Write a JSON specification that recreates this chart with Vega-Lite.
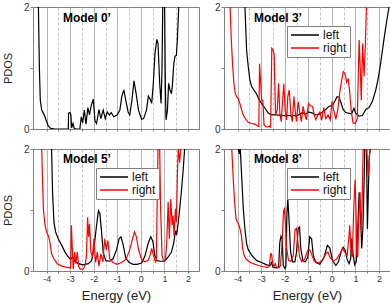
{
  "$schema": "https://vega.github.io/schema/vega-lite/v6.json",
  "background": "white",
  "padding": {"left": 1, "top": 1, "right": 1, "bottom": 1},
  "datasets": {
    "m0": [
      {"series":"left","energy":-4.42,"pdos":2.2},{"series":"left","energy":-4.35,"pdos":2.0},{"series":"left","energy":-4.31,"pdos":1.02},{"series":"left","energy":-4.27,"pdos":0.47},{"series":"left","energy":-4.21,"pdos":0.31},{"series":"left","energy":-4.14,"pdos":0.26},{"series":"left","energy":-4.07,"pdos":0.2},{"series":"left","energy":-4.0,"pdos":0.12},{"series":"left","energy":-3.93,"pdos":0.05},{"series":"left","energy":-3.83,"pdos":0.01},{"series":"left","energy":-3.65,"pdos":0},{"series":"left","energy":-3.08,"pdos":0},{"series":"left","energy":-3.07,"pdos":0.26},{"series":"left","energy":-3.01,"pdos":0.27},{"series":"left","energy":-2.97,"pdos":0.23},{"series":"left","energy":-2.94,"pdos":0.02},{"series":"left","energy":-2.88,"pdos":0.09},{"series":"left","energy":-2.83,"pdos":0.01},{"series":"left","energy":-2.76,"pdos":0},{"series":"left","energy":-2.59,"pdos":0},{"series":"left","energy":-2.53,"pdos":0.2},{"series":"left","energy":-2.47,"pdos":0.1},{"series":"left","energy":-2.4,"pdos":0.31},{"series":"left","energy":-2.33,"pdos":0.08},{"series":"left","energy":-2.25,"pdos":0.35},{"series":"left","energy":-2.18,"pdos":0.23},{"series":"left","energy":-2.11,"pdos":0.38},{"series":"left","energy":-2.02,"pdos":0.49},{"series":"left","energy":-1.95,"pdos":0.14},{"series":"left","energy":-1.88,"pdos":0.09},{"series":"left","energy":-1.78,"pdos":0.32},{"series":"left","energy":-1.7,"pdos":0.17},{"series":"left","energy":-1.6,"pdos":0.31},{"series":"left","energy":-1.51,"pdos":0.17},{"series":"left","energy":-1.43,"pdos":0.28},{"series":"left","energy":-1.34,"pdos":0.23},{"series":"left","energy":-1.26,"pdos":0.27},{"series":"left","energy":-1.15,"pdos":0.2},{"series":"left","energy":-1.01,"pdos":0.23},{"series":"left","energy":-0.89,"pdos":0.31},{"series":"left","energy":-0.81,"pdos":0.53},{"series":"left","energy":-0.72,"pdos":0.64},{"series":"left","energy":-0.64,"pdos":0.47},{"series":"left","energy":-0.54,"pdos":0.28},{"series":"left","energy":-0.47,"pdos":0.23},{"series":"left","energy":-0.38,"pdos":0.47},{"series":"left","energy":-0.29,"pdos":0.79},{"series":"left","energy":-0.2,"pdos":0.58},{"series":"left","energy":-0.1,"pdos":0.31},{"series":"left","energy":0.03,"pdos":0.16},{"series":"left","energy":0.12,"pdos":0.17},{"series":"left","energy":0.24,"pdos":0.31},{"series":"left","energy":0.32,"pdos":0.54},{"series":"left","energy":0.39,"pdos":0.49},{"series":"left","energy":0.46,"pdos":0.42},{"series":"left","energy":0.53,"pdos":0.75},{"series":"left","energy":0.6,"pdos":1.24},{"series":"left","energy":0.68,"pdos":1.47},{"series":"left","energy":0.73,"pdos":1.4},{"series":"left","energy":0.8,"pdos":0.75},{"series":"left","energy":0.86,"pdos":0.42},{"series":"left","energy":0.9,"pdos":1.02},{"series":"left","energy":0.93,"pdos":2.0},{"series":"left","energy":0.94,"pdos":2.2},{"series":"left","energy":1.0,"pdos":2.2},{"series":"left","energy":1.01,"pdos":2.0},{"series":"left","energy":1.04,"pdos":0.75},{"series":"left","energy":1.07,"pdos":0.15},{"series":"left","energy":1.13,"pdos":0.31},{"series":"left","energy":1.18,"pdos":0.75},{"series":"left","energy":1.24,"pdos":0.64},{"series":"left","energy":1.3,"pdos":0.58},{"series":"left","energy":1.34,"pdos":0.72},{"series":"left","energy":1.4,"pdos":1.07},{"series":"left","energy":1.45,"pdos":1.19},{"series":"left","energy":1.51,"pdos":1.21},{"series":"left","energy":1.55,"pdos":1.46},{"series":"left","energy":1.61,"pdos":2.0},{"series":"left","energy":1.65,"pdos":2.3}
    ],
    "m3": [
      {"series":"left","energy":-3.76,"pdos":2.3},{"series":"left","energy":-3.69,"pdos":2.0},{"series":"left","energy":-3.62,"pdos":1.29},{"series":"left","energy":-3.55,"pdos":1.02},{"series":"left","energy":-3.48,"pdos":0.8},{"series":"left","energy":-3.41,"pdos":0.7},{"series":"left","energy":-3.31,"pdos":0.64},{"series":"left","energy":-3.19,"pdos":0.57},{"series":"left","energy":-3.08,"pdos":0.47},{"series":"left","energy":-2.98,"pdos":0.42},{"series":"left","energy":-2.84,"pdos":0.34},{"series":"left","energy":-2.7,"pdos":0.26},{"series":"left","energy":-2.56,"pdos":0.23},{"series":"left","energy":-2.35,"pdos":0.23},{"series":"left","energy":-2.06,"pdos":0.22},{"series":"left","energy":-1.78,"pdos":0.22},{"series":"left","energy":-1.5,"pdos":0.22},{"series":"left","energy":-1.36,"pdos":0.24},{"series":"left","energy":-1.25,"pdos":0.27},{"series":"left","energy":-1.13,"pdos":0.24},{"series":"left","energy":-0.99,"pdos":0.28},{"series":"left","energy":-0.82,"pdos":0.26},{"series":"left","energy":-0.68,"pdos":0.23},{"series":"left","energy":-0.54,"pdos":0.24},{"series":"left","energy":-0.4,"pdos":0.28},{"series":"left","energy":-0.26,"pdos":0.32},{"series":"left","energy":-0.12,"pdos":0.37},{"series":"left","energy":0.03,"pdos":0.39},{"series":"left","energy":0.12,"pdos":0.45},{"series":"left","energy":0.22,"pdos":0.53},{"series":"left","energy":0.31,"pdos":0.52},{"series":"left","energy":0.39,"pdos":0.43},{"series":"left","energy":0.48,"pdos":0.32},{"series":"left","energy":0.59,"pdos":0.27},{"series":"left","energy":0.7,"pdos":0.26},{"series":"left","energy":0.84,"pdos":0.25},{"series":"left","energy":0.94,"pdos":0.34},{"series":"left","energy":1.01,"pdos":0.26},{"series":"left","energy":1.16,"pdos":0.21},{"series":"left","energy":1.3,"pdos":0.22},{"series":"left","energy":1.44,"pdos":0.32},{"series":"left","energy":1.58,"pdos":0.35},{"series":"left","energy":1.72,"pdos":0.45},{"series":"left","energy":1.86,"pdos":0.63},{"series":"left","energy":1.97,"pdos":0.83},{"series":"left","energy":2.07,"pdos":1.07},{"series":"left","energy":2.17,"pdos":1.35},{"series":"left","energy":2.27,"pdos":1.62},{"series":"left","energy":2.36,"pdos":1.84},{"series":"left","energy":2.43,"pdos":2.0},{"series":"left","energy":2.48,"pdos":2.2},
      {"series":"right","energy":-4.4,"pdos":2.3},{"series":"right","energy":-4.32,"pdos":2.0},{"series":"right","energy":-4.27,"pdos":1.46},{"series":"right","energy":-4.21,"pdos":1.02},{"series":"right","energy":-4.16,"pdos":0.75},{"series":"right","energy":-4.1,"pdos":0.58},{"series":"right","energy":-4.04,"pdos":0.53},{"series":"right","energy":-3.97,"pdos":0.5},{"series":"right","energy":-3.9,"pdos":0.41},{"series":"right","energy":-3.83,"pdos":0.31},{"series":"right","energy":-3.76,"pdos":0.23},{"series":"right","energy":-3.66,"pdos":0.16},{"series":"right","energy":-3.55,"pdos":0.11},{"series":"right","energy":-3.41,"pdos":0.09},{"series":"right","energy":-3.27,"pdos":0.08},{"series":"right","energy":-3.15,"pdos":0.05},{"series":"right","energy":-3.1,"pdos":0.04},{"series":"right","energy":-3.07,"pdos":1.07},{"series":"right","energy":-3.03,"pdos":0.8},{"series":"right","energy":-2.98,"pdos":0.47},{"series":"right","energy":-2.93,"pdos":0.47},{"series":"right","energy":-2.88,"pdos":0.07},{"series":"right","energy":-2.81,"pdos":0.04},{"series":"right","energy":-2.73,"pdos":0.03},{"series":"right","energy":-2.66,"pdos":0.05},{"series":"right","energy":-2.6,"pdos":0.03},{"series":"right","energy":-2.55,"pdos":1.32},{"series":"right","energy":-2.49,"pdos":1.29},{"series":"right","energy":-2.45,"pdos":1.21},{"series":"right","energy":-2.39,"pdos":0.23},{"series":"right","energy":-2.32,"pdos":0.31},{"series":"right","energy":-2.26,"pdos":0.75},{"series":"right","energy":-2.21,"pdos":0.26},{"series":"right","energy":-2.15,"pdos":0.12},{"series":"right","energy":-2.09,"pdos":0.47},{"series":"right","energy":-2.04,"pdos":0.74},{"series":"right","energy":-1.98,"pdos":0.31},{"series":"right","energy":-1.92,"pdos":0.15},{"series":"right","energy":-1.87,"pdos":0.53},{"series":"right","energy":-1.81,"pdos":0.64},{"series":"right","energy":-1.74,"pdos":0.26},{"series":"right","energy":-1.68,"pdos":0.12},{"series":"right","energy":-1.61,"pdos":0.53},{"series":"right","energy":-1.56,"pdos":0.31},{"series":"right","energy":-1.5,"pdos":0.12},{"series":"right","energy":-1.43,"pdos":0.45},{"series":"right","energy":-1.36,"pdos":0.26},{"series":"right","energy":-1.29,"pdos":0.12},{"series":"right","energy":-1.22,"pdos":0.37},{"series":"right","energy":-1.15,"pdos":0.23},{"series":"right","energy":-1.08,"pdos":0.15},{"series":"right","energy":-0.99,"pdos":0.42},{"series":"right","energy":-0.91,"pdos":0.38},{"series":"right","energy":-0.82,"pdos":0.37},{"series":"right","energy":-0.75,"pdos":0.23},{"series":"right","energy":-0.68,"pdos":0.15},{"series":"right","energy":-0.6,"pdos":0.23},{"series":"right","energy":-0.51,"pdos":0.28},{"series":"right","energy":-0.43,"pdos":0.14},{"series":"right","energy":-0.34,"pdos":0.35},{"series":"right","energy":-0.26,"pdos":0.17},{"series":"right","energy":-0.16,"pdos":0.23},{"series":"right","energy":-0.07,"pdos":0.15},{"series":"right","energy":0.01,"pdos":0.45},{"series":"right","energy":0.08,"pdos":0.31},{"series":"right","energy":0.17,"pdos":0.16},{"series":"right","energy":0.25,"pdos":0.31},{"series":"right","energy":0.34,"pdos":0.61},{"series":"right","energy":0.42,"pdos":0.8},{"series":"right","energy":0.49,"pdos":0.94},{"series":"right","energy":0.56,"pdos":0.91},{"series":"right","energy":0.63,"pdos":0.77},{"series":"right","energy":0.69,"pdos":0.83},{"series":"right","energy":0.75,"pdos":0.64},{"series":"right","energy":0.82,"pdos":0.31},{"series":"right","energy":0.9,"pdos":0.1},{"series":"right","energy":1.0,"pdos":0.09},{"series":"right","energy":1.08,"pdos":0.17},{"series":"right","energy":1.16,"pdos":1.46},{"series":"right","energy":1.21,"pdos":0.96},{"series":"right","energy":1.25,"pdos":0.47},{"series":"right","energy":1.31,"pdos":1.4},{"series":"right","energy":1.37,"pdos":0.86},{"series":"right","energy":1.42,"pdos":1.35},{"series":"right","energy":1.47,"pdos":2.0},{"series":"right","energy":1.51,"pdos":2.3}
    ],
    "m5": [
      {"series":"left","energy":-3.83,"pdos":2.3},{"series":"left","energy":-3.79,"pdos":2.0},{"series":"left","energy":-3.75,"pdos":1.29},{"series":"left","energy":-3.69,"pdos":0.8},{"series":"left","energy":-3.62,"pdos":0.64},{"series":"left","energy":-3.51,"pdos":0.53},{"series":"left","energy":-3.36,"pdos":0.42},{"series":"left","energy":-3.22,"pdos":0.31},{"series":"left","energy":-3.08,"pdos":0.23},{"series":"left","energy":-2.98,"pdos":0.19},{"series":"left","energy":-2.9,"pdos":0.23},{"series":"left","energy":-2.8,"pdos":0.16},{"series":"left","energy":-2.66,"pdos":0.12},{"series":"left","energy":-2.45,"pdos":0.1},{"series":"left","energy":-2.23,"pdos":0.12},{"series":"left","energy":-2.09,"pdos":0.17},{"series":"left","energy":-1.98,"pdos":0.41},{"series":"left","energy":-1.88,"pdos":0.75},{"series":"left","energy":-1.8,"pdos":0.99},{"series":"left","energy":-1.74,"pdos":0.94},{"series":"left","energy":-1.67,"pdos":0.65},{"series":"left","energy":-1.6,"pdos":0.31},{"series":"left","energy":-1.49,"pdos":0.17},{"series":"left","energy":-1.32,"pdos":0.16},{"series":"left","energy":-1.18,"pdos":0.2},{"series":"left","energy":-1.03,"pdos":0.35},{"series":"left","energy":-0.92,"pdos":0.53},{"series":"left","energy":-0.84,"pdos":0.56},{"series":"left","energy":-0.75,"pdos":0.43},{"series":"left","energy":-0.64,"pdos":0.21},{"series":"left","energy":-0.5,"pdos":0.14},{"series":"left","energy":-0.33,"pdos":0.11},{"series":"left","energy":-0.16,"pdos":0.11},{"series":"left","energy":0.03,"pdos":0.13},{"series":"left","energy":0.17,"pdos":0.24},{"series":"left","energy":0.31,"pdos":0.45},{"series":"left","energy":0.42,"pdos":0.56},{"series":"left","energy":0.51,"pdos":0.49},{"series":"left","energy":0.59,"pdos":0.26},{"series":"left","energy":0.69,"pdos":0.17},{"series":"left","energy":0.83,"pdos":0.16},{"series":"left","energy":1.01,"pdos":0.16},{"series":"left","energy":1.16,"pdos":0.23},{"series":"left","energy":1.3,"pdos":0.31},{"series":"left","energy":1.4,"pdos":0.47},{"series":"left","energy":1.47,"pdos":0.66},{"series":"left","energy":1.52,"pdos":0.59},{"series":"left","energy":1.59,"pdos":0.8},{"series":"left","energy":1.65,"pdos":1.02},{"series":"left","energy":1.72,"pdos":1.29},{"series":"left","energy":1.79,"pdos":1.62},{"series":"left","energy":1.86,"pdos":2.0},{"series":"left","energy":1.9,"pdos":2.3},
      {"series":"right","energy":-4.25,"pdos":2.3},{"series":"right","energy":-4.21,"pdos":2.0},{"series":"right","energy":-4.18,"pdos":1.56},{"series":"right","energy":-4.14,"pdos":1.02},{"series":"right","energy":-4.07,"pdos":0.75},{"series":"right","energy":-4.0,"pdos":0.64},{"series":"right","energy":-3.93,"pdos":0.58},{"series":"right","energy":-3.86,"pdos":0.47},{"series":"right","energy":-3.79,"pdos":0.28},{"series":"right","energy":-3.69,"pdos":0.2},{"series":"right","energy":-3.55,"pdos":0.12},{"series":"right","energy":-3.36,"pdos":0.08},{"series":"right","energy":-3.15,"pdos":0.06},{"series":"right","energy":-2.98,"pdos":0.05},{"series":"right","energy":-2.95,"pdos":0.75},{"series":"right","energy":-2.91,"pdos":0.37},{"series":"right","energy":-2.87,"pdos":0.03},{"series":"right","energy":-2.81,"pdos":0.31},{"series":"right","energy":-2.76,"pdos":0.12},{"series":"right","energy":-2.7,"pdos":0.31},{"series":"right","energy":-2.64,"pdos":0.07},{"series":"right","energy":-2.57,"pdos":0.03},{"series":"right","energy":-2.45,"pdos":0.03},{"series":"right","energy":-2.36,"pdos":0.1},{"series":"right","energy":-2.31,"pdos":0.26},{"series":"right","energy":-2.26,"pdos":0.88},{"series":"right","energy":-2.22,"pdos":0.56},{"series":"right","energy":-2.18,"pdos":0.77},{"series":"right","energy":-2.12,"pdos":0.31},{"series":"right","energy":-2.05,"pdos":0.23},{"series":"right","energy":-1.99,"pdos":0.53},{"series":"right","energy":-1.92,"pdos":0.14},{"series":"right","energy":-1.85,"pdos":0.31},{"series":"right","energy":-1.78,"pdos":0.08},{"series":"right","energy":-1.7,"pdos":0.28},{"series":"right","energy":-1.61,"pdos":0.15},{"series":"right","energy":-1.54,"pdos":0.53},{"series":"right","energy":-1.47,"pdos":0.35},{"series":"right","energy":-1.4,"pdos":0.5},{"series":"right","energy":-1.32,"pdos":0.2},{"series":"right","energy":-1.18,"pdos":0.14},{"series":"right","energy":-1.01,"pdos":0.11},{"series":"right","energy":-0.82,"pdos":0.14},{"series":"right","energy":-0.64,"pdos":0.19},{"series":"right","energy":-0.5,"pdos":0.31},{"series":"right","energy":-0.38,"pdos":0.49},{"series":"right","energy":-0.27,"pdos":0.64},{"series":"right","energy":-0.19,"pdos":0.56},{"series":"right","energy":-0.09,"pdos":0.34},{"series":"right","energy":0.03,"pdos":0.19},{"series":"right","energy":0.17,"pdos":0.15},{"series":"right","energy":0.31,"pdos":0.17},{"series":"right","energy":0.41,"pdos":0.28},{"series":"right","energy":0.46,"pdos":0.37},{"series":"right","energy":0.53,"pdos":0.26},{"series":"right","energy":0.62,"pdos":0.15},{"series":"right","energy":0.66,"pdos":0.19},{"series":"right","energy":0.7,"pdos":1.29},{"series":"right","energy":0.73,"pdos":2.0},{"series":"right","energy":0.76,"pdos":2.3},{"series":"right","energy":0.8,"pdos":2.0},{"series":"right","energy":0.84,"pdos":1.02},{"series":"right","energy":0.9,"pdos":0.26},{"series":"right","energy":0.97,"pdos":0.16},{"series":"right","energy":1.04,"pdos":0.17},{"series":"right","energy":1.1,"pdos":0.47},{"series":"right","energy":1.16,"pdos":1.13},{"series":"right","energy":1.21,"pdos":0.53},{"series":"right","energy":1.27,"pdos":1.18},{"series":"right","energy":1.33,"pdos":0.75},{"series":"right","energy":1.37,"pdos":0.91},{"series":"right","energy":1.41,"pdos":0.58},{"series":"right","energy":1.47,"pdos":1.02},{"series":"right","energy":1.51,"pdos":0.8},{"series":"right","energy":1.55,"pdos":1.56},{"series":"right","energy":1.59,"pdos":2.0},{"series":"right","energy":1.65,"pdos":1.78},{"series":"right","energy":1.69,"pdos":2.0},{"series":"right","energy":1.73,"pdos":2.3}
    ],
    "m8": [
      {"series":"left","energy":-4.04,"pdos":2.3},{"series":"left","energy":-3.97,"pdos":2.0},{"series":"left","energy":-3.93,"pdos":1.92},{"series":"left","energy":-3.89,"pdos":2.0},{"series":"left","energy":-3.83,"pdos":1.56},{"series":"left","energy":-3.76,"pdos":1.02},{"series":"left","energy":-3.69,"pdos":0.68},{"series":"left","energy":-3.62,"pdos":0.45},{"series":"left","energy":-3.55,"pdos":0.35},{"series":"left","energy":-3.41,"pdos":0.26},{"series":"left","energy":-3.19,"pdos":0.17},{"series":"left","energy":-2.98,"pdos":0.14},{"series":"left","energy":-2.77,"pdos":0.1},{"series":"left","energy":-2.63,"pdos":0.09},{"series":"left","energy":-2.56,"pdos":0.14},{"series":"left","energy":-2.5,"pdos":0.06},{"series":"left","energy":-2.38,"pdos":0.05},{"series":"left","energy":-2.26,"pdos":0.07},{"series":"left","energy":-2.21,"pdos":0.47},{"series":"left","energy":-2.16,"pdos":0.57},{"series":"left","energy":-2.11,"pdos":0.52},{"series":"left","energy":-2.06,"pdos":0.09},{"series":"left","energy":-1.99,"pdos":0.04},{"series":"left","energy":-1.95,"pdos":0.08},{"series":"left","energy":-1.91,"pdos":0.91},{"series":"left","energy":-1.87,"pdos":1.19},{"series":"left","energy":-1.81,"pdos":0.77},{"series":"left","energy":-1.75,"pdos":0.31},{"series":"left","energy":-1.67,"pdos":0.15},{"series":"left","energy":-1.57,"pdos":0.15},{"series":"left","energy":-1.5,"pdos":0.31},{"series":"left","energy":-1.43,"pdos":0.7},{"series":"left","energy":-1.37,"pdos":0.72},{"series":"left","energy":-1.32,"pdos":0.37},{"series":"left","energy":-1.23,"pdos":0.17},{"series":"left","energy":-1.13,"pdos":0.15},{"series":"left","energy":-1.02,"pdos":0.23},{"series":"left","energy":-0.94,"pdos":0.56},{"series":"left","energy":-0.86,"pdos":0.53},{"series":"left","energy":-0.79,"pdos":0.26},{"series":"left","energy":-0.68,"pdos":0.14},{"series":"left","energy":-0.51,"pdos":0.11},{"series":"left","energy":-0.33,"pdos":0.23},{"series":"left","energy":-0.19,"pdos":0.42},{"series":"left","energy":-0.09,"pdos":0.38},{"series":"left","energy":0.03,"pdos":0.17},{"series":"left","energy":0.17,"pdos":0.09},{"series":"left","energy":0.28,"pdos":0.15},{"series":"left","energy":0.39,"pdos":0.31},{"series":"left","energy":0.48,"pdos":0.39},{"series":"left","energy":0.56,"pdos":0.35},{"series":"left","energy":0.65,"pdos":0.19},{"series":"left","energy":0.73,"pdos":0.12},{"series":"left","energy":0.8,"pdos":0.2},{"series":"left","energy":0.84,"pdos":0.53},{"series":"left","energy":0.9,"pdos":0.28},{"series":"left","energy":0.97,"pdos":0.1},{"series":"left","energy":1.04,"pdos":0.16},{"series":"left","energy":1.1,"pdos":0.69},{"series":"left","energy":1.16,"pdos":1.29},{"series":"left","energy":1.21,"pdos":0.96},{"series":"left","energy":1.27,"pdos":0.37},{"series":"left","energy":1.32,"pdos":0.72},{"series":"left","energy":1.37,"pdos":1.46},{"series":"left","energy":1.4,"pdos":2.0},{"series":"left","energy":1.44,"pdos":2.3},{"series":"left","energy":1.47,"pdos":2.0},{"series":"left","energy":1.51,"pdos":0.69},{"series":"left","energy":1.55,"pdos":1.29},{"series":"left","energy":1.59,"pdos":1.89},{"series":"left","energy":1.64,"pdos":2.0},{"series":"left","energy":1.68,"pdos":2.3},
      {"series":"right","energy":-4.32,"pdos":2.3},{"series":"right","energy":-4.25,"pdos":2.0},{"series":"right","energy":-4.18,"pdos":1.46},{"series":"right","energy":-4.13,"pdos":1.13},{"series":"right","energy":-4.07,"pdos":0.86},{"series":"right","energy":-4.01,"pdos":0.8},{"series":"right","energy":-3.96,"pdos":0.77},{"series":"right","energy":-3.9,"pdos":0.69},{"series":"right","energy":-3.84,"pdos":0.58},{"series":"right","energy":-3.79,"pdos":0.37},{"series":"right","energy":-3.73,"pdos":0.26},{"series":"right","energy":-3.65,"pdos":0.2},{"series":"right","energy":-3.51,"pdos":0.15},{"series":"right","energy":-3.34,"pdos":0.12},{"series":"right","energy":-3.12,"pdos":0.09},{"series":"right","energy":-2.91,"pdos":0.07},{"series":"right","energy":-2.74,"pdos":0.06},{"series":"right","energy":-2.66,"pdos":0.07},{"series":"right","energy":-2.6,"pdos":0.28},{"series":"right","energy":-2.56,"pdos":0.28},{"series":"right","energy":-2.52,"pdos":0.15},{"series":"right","energy":-2.47,"pdos":0.07},{"series":"right","energy":-2.4,"pdos":0.12},{"series":"right","energy":-2.35,"pdos":0.05},{"series":"right","energy":-2.25,"pdos":0.05},{"series":"right","energy":-2.18,"pdos":0.09},{"series":"right","energy":-2.11,"pdos":0.47},{"series":"right","energy":-2.05,"pdos":0.99},{"series":"right","energy":-2.01,"pdos":1.02},{"series":"right","energy":-1.97,"pdos":0.75},{"series":"right","energy":-1.92,"pdos":0.37},{"series":"right","energy":-1.84,"pdos":0.17},{"series":"right","energy":-1.74,"pdos":0.16},{"series":"right","energy":-1.64,"pdos":0.26},{"series":"right","energy":-1.56,"pdos":0.68},{"series":"right","energy":-1.5,"pdos":0.7},{"series":"right","energy":-1.44,"pdos":0.47},{"series":"right","energy":-1.37,"pdos":0.23},{"series":"right","energy":-1.27,"pdos":0.15},{"series":"right","energy":-1.15,"pdos":0.2},{"series":"right","energy":-1.02,"pdos":0.34},{"series":"right","energy":-0.94,"pdos":0.35},{"series":"right","energy":-0.85,"pdos":0.26},{"series":"right","energy":-0.74,"pdos":0.16},{"series":"right","energy":-0.58,"pdos":0.13},{"series":"right","energy":-0.4,"pdos":0.17},{"series":"right","energy":-0.26,"pdos":0.28},{"series":"right","energy":-0.17,"pdos":0.31},{"series":"right","energy":-0.09,"pdos":0.23},{"series":"right","energy":0.05,"pdos":0.16},{"series":"right","energy":0.19,"pdos":0.19},{"series":"right","energy":0.34,"pdos":0.28},{"series":"right","energy":0.45,"pdos":0.37},{"series":"right","energy":0.55,"pdos":0.31},{"series":"right","energy":0.65,"pdos":0.26},{"series":"right","energy":0.72,"pdos":0.53},{"series":"right","energy":0.76,"pdos":0.75},{"series":"right","energy":0.82,"pdos":0.31},{"series":"right","energy":0.87,"pdos":0.23},{"series":"right","energy":0.93,"pdos":1.02},{"series":"right","energy":0.99,"pdos":1.5},{"series":"right","energy":1.03,"pdos":0.91},{"series":"right","energy":1.06,"pdos":0.26},{"series":"right","energy":1.1,"pdos":0.23},{"series":"right","energy":1.16,"pdos":1.02},{"series":"right","energy":1.2,"pdos":1.29},{"series":"right","energy":1.24,"pdos":0.69},{"series":"right","energy":1.28,"pdos":1.02},{"series":"right","energy":1.33,"pdos":2.0},{"series":"right","energy":1.37,"pdos":2.3},{"series":"right","energy":1.44,"pdos":2.3},{"series":"right","energy":1.48,"pdos":2.0},{"series":"right","energy":1.54,"pdos":1.56},{"series":"right","energy":1.58,"pdos":1.78},{"series":"right","energy":1.62,"pdos":2.0},{"series":"right","energy":1.66,"pdos":2.3}
    ]
  },
  "config": {
    "font": "Liberation Sans",
    "view": {"stroke": "#808080", "strokeWidth": 1},
    "axis": {"domainColor": "#808080", "tickColor": "#808080", "labelColor": "#333333", "titleColor": "#222222", "titleFontWeight": "normal", "labelFont": "Liberation Sans", "titleFont": "Liberation Sans", "labelOverlap": false},
    "legend": {"orient": "none", "legendX": 63, "legendY": 19, "title": null, "strokeColor": "#808080", "fillColor": "white", "padding": 3, "symbolType": "M-1,0H4.6", "symbolSize": 100, "symbolStrokeWidth": 1.5, "labelOffset": 21, "labelFontSize": 12, "labelColor": "#111111", "rowPadding": 1, "labelFont": "Liberation Sans"}
  },
  "spacing": 8,
  "resolve": {"scale": {"color": "independent"}, "legend": {"color": "independent"}},
  "vconcat": [
    {
      "spacing": 13,
      "resolve": {"scale": {"color": "independent"}, "legend": {"color": "independent"}},
      "hconcat": [
        {
          "width": 166, "height": 122,
          "layer": [
            {
              "data": {"name": "m0"},
              "mark": {"type": "line", "clip": true, "strokeWidth": 1.2, "color": "black"},
              "encoding": {
                "x": {"field": "energy", "type": "quantitative", "scale": {"domain": [-4.58, 2.47], "nice": false, "zero": false},
                  "axis": {"title": null, "labels": false, "values": [-4,-3.5,-3,-2.5,-2,-1.5,-1,-0.5,0,0.5,1,1.5,2], "tickSize": 2, "grid": true,
                    "gridColor": {"condition": {"test": "datum.value % 1 !== 0", "value": "#c4c4c4"}, "value": "#9a9a9a"},
                    "gridDash": {"condition": {"test": "datum.value % 1 !== 0", "value": [3, 2]}, "value": [1, 0]}}},
                "y": {"field": "pdos", "type": "quantitative", "scale": {"domain": [0, 2], "nice": false},
                  "axis": {"title": "PDOS", "titleFontSize": 11, "titlePadding": 10, "values": [0, 1, 2], "labelExpr": "datum.value === 1 ? '' : datum.value + ''", "labelFontSize": 10, "labelPadding": 1, "tickSize": 3, "grid": false}}
              }
            },
            {
              "data": {"values": [{"label": "Model 0’"}]},
              "mark": {"type": "text", "align": "left", "baseline": "middle", "fontWeight": "bold", "fontSize": 12, "font": "Liberation Sans", "color": "black"},
              "encoding": {
                "x": {"datum": -3.31, "type": "quantitative",
                  "axis": {"title": null, "labels": false, "values": [-4,-3.5,-3,-2.5,-2,-1.5,-1,-0.5,0,0.5,1,1.5,2], "tickSize": 2, "grid": true,
                    "gridColor": {"condition": {"test": "datum.value % 1 !== 0", "value": "#c4c4c4"}, "value": "#9a9a9a"},
                    "gridDash": {"condition": {"test": "datum.value % 1 !== 0", "value": [3, 2]}, "value": [1, 0]}}},
                "y": {"datum": 1.82, "type": "quantitative",
                  "axis": {"title": "PDOS", "titleFontSize": 11, "titlePadding": 10, "values": [0, 1, 2], "labelExpr": "datum.value === 1 ? '' : datum.value + ''", "labelFontSize": 10, "labelPadding": 1, "tickSize": 3, "grid": false}},
                "text": {"field": "label"}}
            }
          ]
        },
        {
          "width": 166, "height": 122,
          "layer": [
            {
              "data": {"name": "m3"},
              "mark": {"type": "line", "clip": true, "strokeWidth": 1.2},
              "encoding": {
                "x": {"field": "energy", "type": "quantitative", "scale": {"domain": [-4.58, 2.47], "nice": false, "zero": false},
                  "axis": {"title": null, "labels": false, "values": [-4,-3.5,-3,-2.5,-2,-1.5,-1,-0.5,0,0.5,1,1.5,2], "tickSize": 2, "grid": true,
                    "gridColor": {"condition": {"test": "datum.value % 1 !== 0", "value": "#c4c4c4"}, "value": "#9a9a9a"},
                    "gridDash": {"condition": {"test": "datum.value % 1 !== 0", "value": [3, 2]}, "value": [1, 0]}}},
                "y": {"field": "pdos", "type": "quantitative", "scale": {"domain": [0, 2], "nice": false},
                  "axis": {"title": null, "values": [0, 1, 2], "labelExpr": "datum.value === 1 ? '' : datum.value + ''", "labelFontSize": 10, "labelPadding": 1, "tickSize": 3, "grid": false}},
                "color": {"field": "series", "type": "nominal", "scale": {"domain": ["left", "right"], "range": ["#000000", "#ff0000"]}}
              }
            },
            {
              "data": {"values": [{"label": "Model 3’"}]},
              "mark": {"type": "text", "align": "left", "baseline": "middle", "fontWeight": "bold", "fontSize": 12, "font": "Liberation Sans", "color": "black"},
              "encoding": {
                "x": {"datum": -3.31, "type": "quantitative",
                  "axis": {"title": null, "labels": false, "values": [-4,-3.5,-3,-2.5,-2,-1.5,-1,-0.5,0,0.5,1,1.5,2], "tickSize": 2, "grid": true,
                    "gridColor": {"condition": {"test": "datum.value % 1 !== 0", "value": "#c4c4c4"}, "value": "#9a9a9a"},
                    "gridDash": {"condition": {"test": "datum.value % 1 !== 0", "value": [3, 2]}, "value": [1, 0]}}},
                "y": {"datum": 1.82, "type": "quantitative",
                  "axis": {"title": null, "values": [0, 1, 2], "labelExpr": "datum.value === 1 ? '' : datum.value + ''", "labelFontSize": 10, "labelPadding": 1, "tickSize": 3, "grid": false}},
                "text": {"field": "label"}}
            }
          ]
        }
      ]
    },
    {
      "spacing": 13,
      "resolve": {"scale": {"color": "independent"}, "legend": {"color": "independent"}},
      "hconcat": [
        {
          "width": 166, "height": 122,
          "layer": [
            {
              "data": {"name": "m5"},
              "mark": {"type": "line", "clip": true, "strokeWidth": 1.2},
              "encoding": {
                "x": {"field": "energy", "type": "quantitative", "scale": {"domain": [-4.58, 2.47], "nice": false, "zero": false},
                  "axis": {"title": "Energy (eV)", "titleFontSize": 13, "titlePadding": 6, "values": [-4,-3.5,-3,-2.5,-2,-1.5,-1,-0.5,0,0.5,1,1.5,2], "labelExpr": "datum.value % 1 === 0 ? (datum.value < 0 ? '-' + abs(datum.value) : '' + datum.value) : ''", "labelFontSize": 9, "labelPadding": 1, "tickSize": 2, "grid": true,
                    "gridColor": {"condition": {"test": "datum.value % 1 !== 0", "value": "#c4c4c4"}, "value": "#9a9a9a"},
                    "gridDash": {"condition": {"test": "datum.value % 1 !== 0", "value": [3, 2]}, "value": [1, 0]}}},
                "y": {"field": "pdos", "type": "quantitative", "scale": {"domain": [0, 2], "nice": false},
                  "axis": {"title": "PDOS", "titleFontSize": 11, "titlePadding": 10, "values": [0, 1, 2], "labelExpr": "datum.value === 1 ? '' : datum.value + ''", "labelFontSize": 10, "labelPadding": 1, "tickSize": 3, "grid": false}},
                "color": {"field": "series", "type": "nominal", "scale": {"domain": ["left", "right"], "range": ["#000000", "#ff0000"]}}
              }
            },
            {
              "data": {"values": [{"label": "Model 5’"}]},
              "mark": {"type": "text", "align": "left", "baseline": "middle", "fontWeight": "bold", "fontSize": 12, "font": "Liberation Sans", "color": "black"},
              "encoding": {
                "x": {"datum": -3.31, "type": "quantitative",
                  "axis": {"title": "Energy (eV)", "titleFontSize": 13, "titlePadding": 6, "values": [-4,-3.5,-3,-2.5,-2,-1.5,-1,-0.5,0,0.5,1,1.5,2], "labelExpr": "datum.value % 1 === 0 ? (datum.value < 0 ? '-' + abs(datum.value) : '' + datum.value) : ''", "labelFontSize": 9, "labelPadding": 1, "tickSize": 2, "grid": true,
                    "gridColor": {"condition": {"test": "datum.value % 1 !== 0", "value": "#c4c4c4"}, "value": "#9a9a9a"},
                    "gridDash": {"condition": {"test": "datum.value % 1 !== 0", "value": [3, 2]}, "value": [1, 0]}}},
                "y": {"datum": 1.84, "type": "quantitative",
                  "axis": {"title": "PDOS", "titleFontSize": 11, "titlePadding": 10, "values": [0, 1, 2], "labelExpr": "datum.value === 1 ? '' : datum.value + ''", "labelFontSize": 10, "labelPadding": 1, "tickSize": 3, "grid": false}},
                "text": {"field": "label"}}
            }
          ]
        },
        {
          "width": 166, "height": 122,
          "layer": [
            {
              "data": {"name": "m8"},
              "mark": {"type": "line", "clip": true, "strokeWidth": 1.2},
              "encoding": {
                "x": {"field": "energy", "type": "quantitative", "scale": {"domain": [-4.58, 2.47], "nice": false, "zero": false},
                  "axis": {"title": "Energy (eV)", "titleFontSize": 13, "titlePadding": 6, "values": [-4,-3.5,-3,-2.5,-2,-1.5,-1,-0.5,0,0.5,1,1.5,2], "labelExpr": "datum.value % 1 === 0 ? (datum.value < 0 ? '-' + abs(datum.value) : '' + datum.value) : ''", "labelFontSize": 9, "labelPadding": 1, "tickSize": 2, "grid": true,
                    "gridColor": {"condition": {"test": "datum.value % 1 !== 0", "value": "#c4c4c4"}, "value": "#9a9a9a"},
                    "gridDash": {"condition": {"test": "datum.value % 1 !== 0", "value": [3, 2]}, "value": [1, 0]}}},
                "y": {"field": "pdos", "type": "quantitative", "scale": {"domain": [0, 2], "nice": false},
                  "axis": {"title": null, "values": [0, 1, 2], "labelExpr": "datum.value === 1 ? '' : datum.value + ''", "labelFontSize": 10, "labelPadding": 1, "tickSize": 3, "grid": false}},
                "color": {"field": "series", "type": "nominal", "scale": {"domain": ["left", "right"], "range": ["#000000", "#ff0000"]}}
              }
            },
            {
              "data": {"values": [{"label": "Model 8’"}]},
              "mark": {"type": "text", "align": "left", "baseline": "middle", "fontWeight": "bold", "fontSize": 12, "font": "Liberation Sans", "color": "black"},
              "encoding": {
                "x": {"datum": -3.31, "type": "quantitative",
                  "axis": {"title": "Energy (eV)", "titleFontSize": 13, "titlePadding": 6, "values": [-4,-3.5,-3,-2.5,-2,-1.5,-1,-0.5,0,0.5,1,1.5,2], "labelExpr": "datum.value % 1 === 0 ? (datum.value < 0 ? '-' + abs(datum.value) : '' + datum.value) : ''", "labelFontSize": 9, "labelPadding": 1, "tickSize": 2, "grid": true,
                    "gridColor": {"condition": {"test": "datum.value % 1 !== 0", "value": "#c4c4c4"}, "value": "#9a9a9a"},
                    "gridDash": {"condition": {"test": "datum.value % 1 !== 0", "value": [3, 2]}, "value": [1, 0]}}},
                "y": {"datum": 1.84, "type": "quantitative",
                  "axis": {"title": null, "values": [0, 1, 2], "labelExpr": "datum.value === 1 ? '' : datum.value + ''", "labelFontSize": 10, "labelPadding": 1, "tickSize": 3, "grid": false}},
                "text": {"field": "label"}}
            }
          ]
        }
      ]
    }
  ]
}
